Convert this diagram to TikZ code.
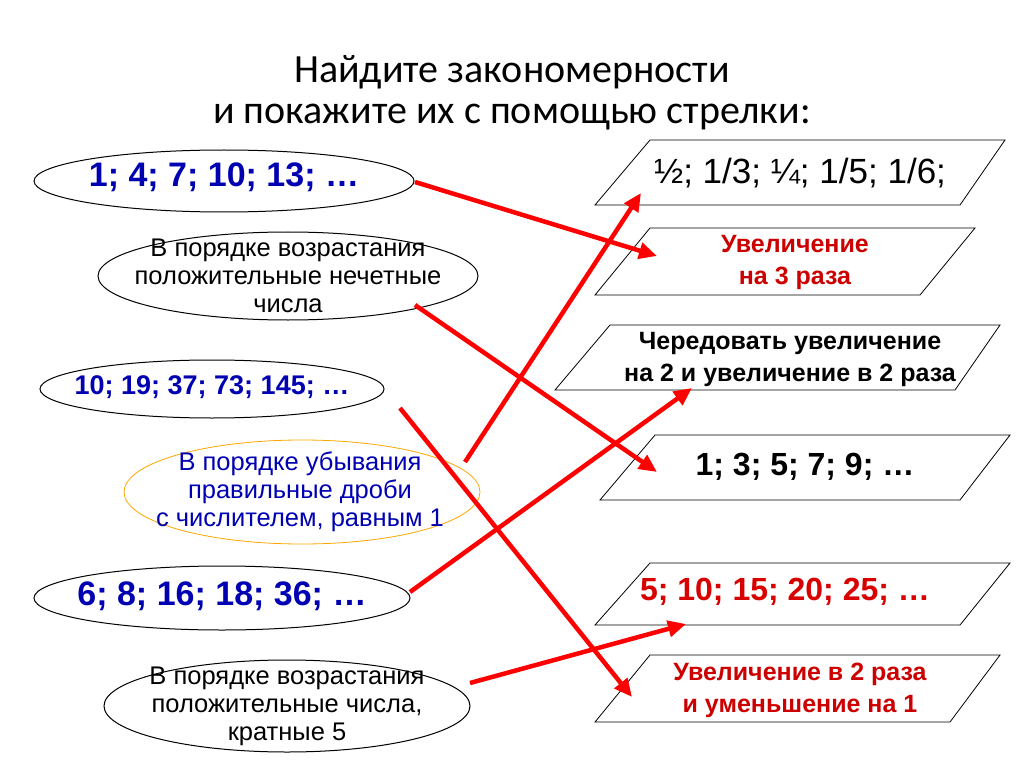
\documentclass[tikz,border=0pt]{standalone}
\usepackage{fontspec}
\setmainfont{Liberation Sans}
\newfontfamily\titlefont{Carlito}
\usetikzlibrary{arrows.meta}
\begin{document}
\begin{tikzpicture}[x=1pt,y=-1pt,
  num/.style={font=\bfseries\fontsize{34}{38}\selectfont,text=blue!70!black},
  txt/.style={font=\fontsize{25.5}{28}\selectfont,align=center},
  btxt/.style={align=center,font=\bfseries\fontsize{25}{32}\selectfont},
  par/.style={draw=black,line width=0.8pt},
  arr/.style={draw=red,line width=4.5pt,-{Triangle[length=18pt,width=16pt]}}]
\useasboundingbox (0,0) rectangle (1024,767);
\node[font=\titlefont\fontsize{40}{44}\selectfont] (t1) at (512,72) {Найдите закономерности};
\node[font=\titlefont\fontsize{40}{44}\selectfont] (t2) at (512,117) {и покажите их с помощью стрелки:};
% ellipses
\draw[line width=1pt] (224,181) ellipse (190 and 31);
\node[num] (e1) at (224,177) {1; 4; 7; 10; 13; …};
\draw[line width=1pt] (288,276) ellipse (190 and 44);
\node[txt] (e2) at (288,276) {В порядке возрастания\\положительные нечетные\\числа};
\draw[line width=1pt] (212,389) ellipse (172 and 29);
\node[num,font=\bfseries\fontsize{27}{30}\selectfont] (e3) at (212,387) {10; 19; 37; 73; 145; …};
\draw[line width=0.8pt,draw=orange!70!yellow] (302,492) ellipse (178 and 52);
\node[txt,text=blue!70!black] (e4) at (300,492) {В порядке убывания\\правильные дроби\\с числителем, равным 1};
\draw[line width=1pt] (222,598) ellipse (188 and 32);
\node[num] (e5) at (222,596) {6; 8; 16; 18; 36; …};
\draw[line width=1pt] (287,706) ellipse (183 and 46);
\node[txt] (e6) at (287,706) {В порядке возрастания\\положительные числа,\\кратные 5};
% parallelograms
\draw[par] (650,140) -- (1005,140) -- (960,205) -- (595,205) -- cycle;
\node[font=\fontsize{35}{38}\selectfont] (p1) at (800,173) {½; 1/3; ¼; 1/5; 1/6;};
\draw[par] (650,228) -- (975,228) -- (920,295) -- (595,295) -- cycle;
\node[btxt,text=red!80!black] (p2) at (795,262) {Увеличение\\на 3 раза};
\draw[par] (610,325) -- (1000,325) -- (955,390) -- (555,390) -- cycle;
\node[btxt] (p3) at (790,359) {Чередовать увеличение\\на 2 и увеличение в 2 раза};
\draw[par] (655,435) -- (1010,435) -- (960,500) -- (600,500) -- cycle;
\node[font=\bfseries\fontsize{32}{36}\selectfont] (p4) at (805,467) {1; 3; 5; 7; 9; …};
\draw[par] (650,563) -- (1010,563) -- (960,625) -- (595,625) -- cycle;
\node[font=\bfseries\fontsize{32}{36}\selectfont,text=red!85!black] (p5) at (785,592) {5; 10; 15; 20; 25; …};
\draw[par] (650,655) -- (1000,655) -- (950,722) -- (595,722) -- cycle;
\node[btxt,text=red!80!black] (p6) at (800,690) {Увеличение в 2 раза\\и уменьшение на 1};
% arrow end points
\coordinate (a1s) at (415,182); \coordinate (a1e) at (657,256);
\coordinate (a2s) at (415,305); \coordinate (a2e) at (657,472);
\coordinate (a3s) at (400,408); \coordinate (a3e) at (632,697);
\coordinate (a4s) at (465,462); \coordinate (a4e) at (641,193);
\coordinate (a5s) at (410,592); \coordinate (a5e) at (692,388);
\coordinate (a6s) at (470,683); \coordinate (a6e) at (686,624);
\foreach \i in {1,...,6} \draw[arr] (a\i s) -- (a\i e);
\end{tikzpicture}
\end{document}
